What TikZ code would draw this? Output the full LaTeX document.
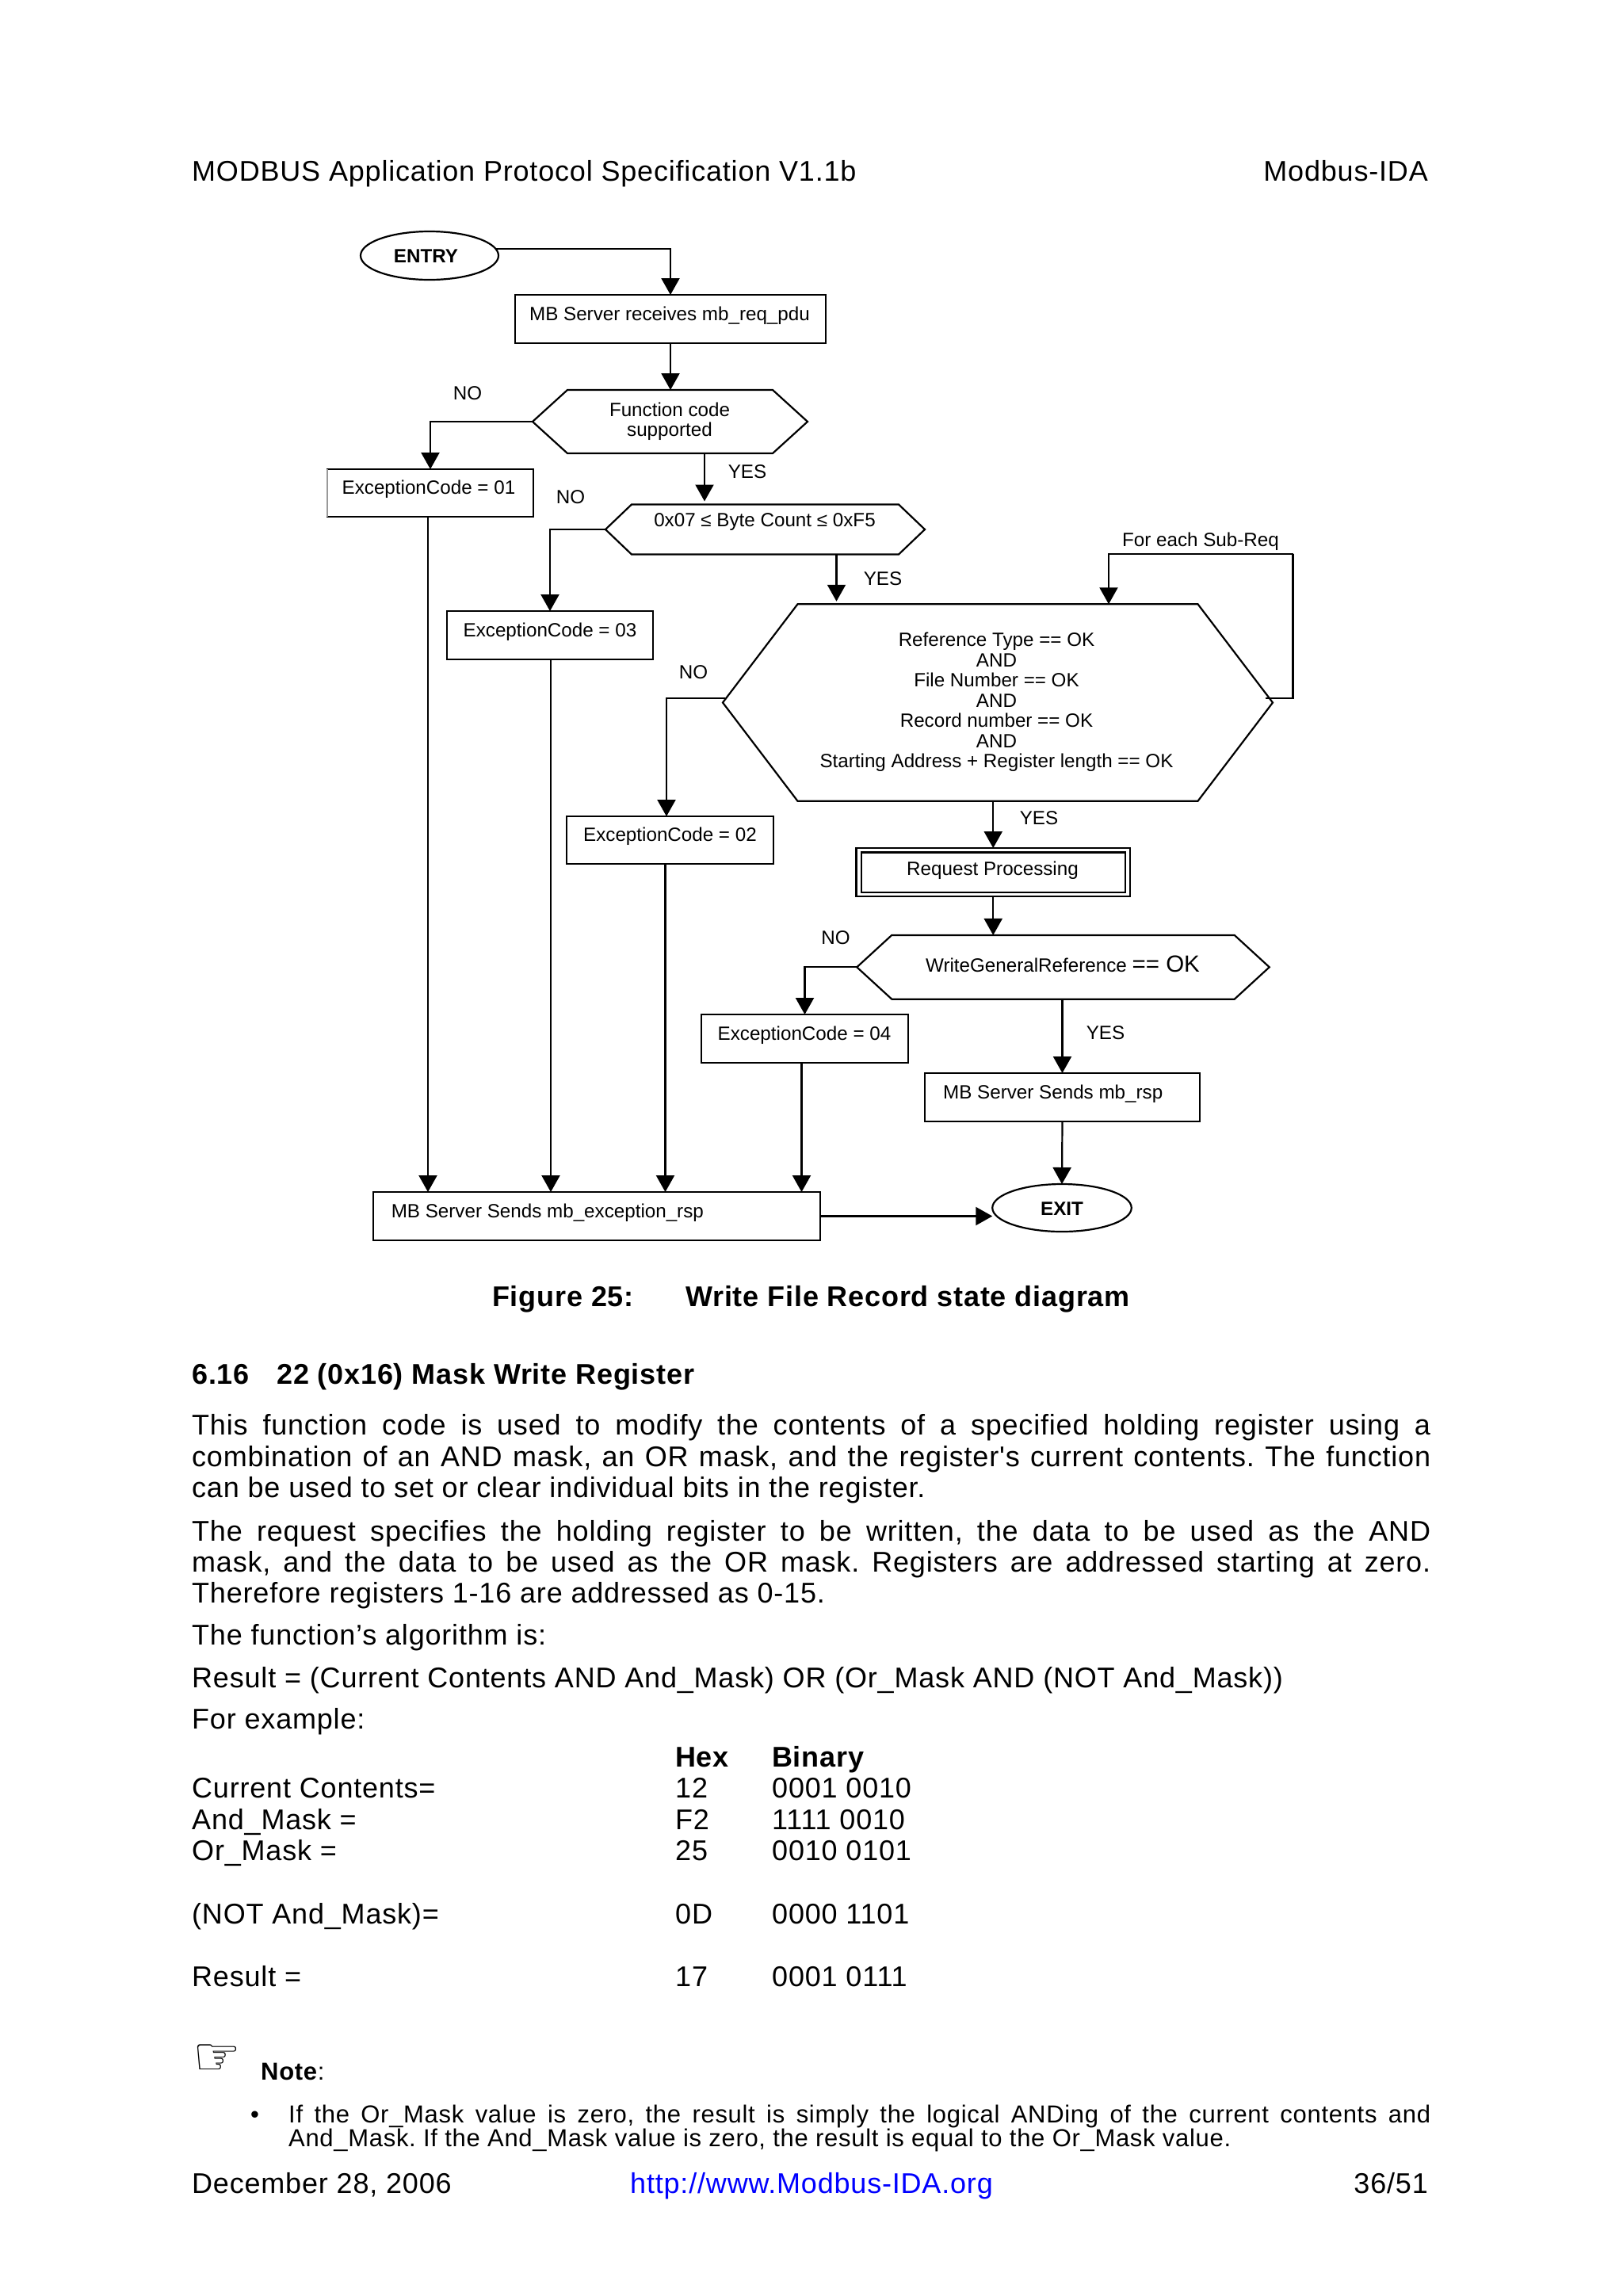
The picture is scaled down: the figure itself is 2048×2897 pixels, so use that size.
\documentclass[tikz,border=0pt]{standalone}
\usepackage{fontspec}
\usetikzlibrary{arrows.meta,shapes.geometric,calc}
\setmainfont{Liberation Sans}
\newfontfamily\bodyf[LetterSpace=2.25]{Liberation Sans}
\newfontfamily\dejavu{DejaVu Sans}
\newcommand{\bodysz}{\bodyf\fontsize{36}{40}\selectfont}
\newcommand{\notesz}{\bodyf\fontsize{31}{33}\selectfont}
\newcommand{\diasz}{\rmfamily\fontsize{24.2}{25.5}\selectfont}
\frenchspacing
\tikzset{
  pline/.style={line width=2.2pt,draw=black},
  arr/.style={pline,-{Triangle[length=21pt,width=23pt]}},
  boxn/.style={pline,rectangle,anchor=north west,inner sep=0pt,outer sep=0pt},
  hexn/.style={rectangle,inner sep=0pt,outer sep=0pt},
  ell/.style={pline,ellipse,inner sep=0pt,outer sep=0pt},
  dia/.style={inner sep=0pt,font=\diasz,align=center},
  diab/.style={inner sep=0pt,font=\diasz\bfseries},
  body/.style={inner sep=0pt,anchor=base west,font=\bodysz},
  bodyb/.style={inner sep=0pt,anchor=base west,font=\bodysz\bfseries},
  noteline/.style={inner sep=0pt,anchor=base west,font=\notesz},
}
\newcommand{\bx}[5]{\node[boxn,minimum width=#4pt,minimum height=#5pt] (#1) at (#2,#3) {};}
% name, cx, cy, w, h, chamfer
\newcommand{\hx}[6]{\node[hexn,minimum width=#4pt,minimum height=#5pt] (#1) at (#2,#3) {};
  \draw[pline,line join=miter] (#1.west) -- ([xshift=#6pt]#1.north west) -- ([xshift=-#6pt]#1.north east) -- (#1.east) -- ([xshift=-#6pt]#1.south east) -- ([xshift=#6pt]#1.south west) -- cycle;}
\newcommand{\jl}[3]{\node[body] (#1) at (242,#2) {\makebox[1563pt][s]{#3}};}
\begin{document}
\begin{tikzpicture}[x=1pt,y=-1pt]
\useasboundingbox (0,0) rectangle (2048,2897);
\fill[white] (0,0) rectangle (2048,2897);
% header
\node[body] (hl) at (242,228) {MODBUS Application Protocol Specification V1.1b};
\node[body,anchor=base east] (hr) at (1802,228) {Modbus-IDA};
% shapes
\node[ell,minimum width=174pt,minimum height=61pt] (entry) at (542,322.5) {};
\node[diab] (entryt) at (537.5,323) {ENTRY};
\bx{mb}{650}{372}{392}{61}
\node[dia] (mbt) at (845,398) {MB Server receives mb\_req\_pdu};
\hx{fn}{845.5}{532}{347}{80}{44}
\node[dia] (fnt) at (845,531.5) {Function code\\supported};
\bx{e1}{413}{592}{260}{60}
\node[dia] (e1t) at (541,617) {ExceptionCode = 01};
\draw[line width=2.6pt,black!40] (e1.north west) -- (e1.south west);
\hx{byte}{965.5}{668}{403}{63}{33}
\node[dia] (bytet) at (965,659) {0x07 ≤ Byte Count ≤ 0xF5};
\bx{e3}{564}{771}{260}{61}
\node[dia] (e3t) at (694,797) {ExceptionCode = 03};
\hx{big}{1259}{886.5}{694}{248.5}{94.5}
\node[dia] (bigt) at (1257.5,886) {Reference Type == OK\\AND\\File Number == OK\\AND\\Record number == OK\\AND\\Starting Address + Register length == OK};
\bx{e2}{715}{1030}{261}{60}
\node[dia] (e2t) at (845.5,1055) {ExceptionCode = 02};
\bx{req}{1080.5}{1070}{345.5}{61}
\node[pline,rectangle,inner sep=0pt,minimum width=333pt,minimum height=50.5pt] (reqi) at (1253.5,1100.8) {};
\node[dia] (reqt) at (1252.5,1098) {Request Processing};
\hx{w}{1341.5}{1220.3}{520.5}{80.7}{44}
\node[dia] (wt) at (1341,1216) {WriteGeneralReference {\fontsize{29.5}{29.5}\selectfont == OK}};
\bx{e4}{885}{1280}{261}{60.7}
\node[dia] (e4t) at (1015,1306) {ExceptionCode = 04};
\bx{ms}{1167}{1354}{347}{61}
\node[dia,anchor=west] (mst) at (1190,1380) {MB Server Sends mb\_rsp};
\bx{rsp}{470.6}{1504}{564.4}{61}
\node[dia,anchor=west] (rspt) at (493.6,1530) {MB Server Sends mb\_exception\_rsp};
\node[ell,minimum width=175.5pt,minimum height=60pt] (exitn) at (1340,1524) {};
\node[diab] (exitt) at (1340,1525) {EXIT};
\coordinate (loop) at (1631.5,699);
% connectors
\draw[arr] (entry.6) -| (mb.north);
\draw[arr] (mb.south) -- (mb.south |- fn.north);
\draw[arr] (fn.west) -| (e1.north);
\draw[arr,shorten >=4pt] ([xshift=43.5pt]fn.south) -- ([xshift=43.5pt]fn.south |- byte.north);
\draw[arr] (byte.west) -| (e3.north);
\draw[arr,shorten >=3.5pt] ([xshift=90pt]byte.south) -- ([xshift=90pt]byte.south |- big.north);
\draw[arr] ([xshift=3pt,yshift=5.5pt]big.west) -| ([xshift=-4.5pt]e2.north);
\draw[pline] ([xshift=-9pt,yshift=5.5pt]big.east) -| (loop);
\draw[arr] (loop) -| ([xshift=140pt]big.north);
\draw[arr] (req.north |- big.south) -- (req.north);
\draw[arr] (req.south) -- (req.south |- w.north);
\draw[arr] (w.west) -| (e4.north);
\draw[arr] (ms.north |- w.south) -- (ms.north);
\draw[arr] (ms.south) -- (exitn.north);
\draw[arr] (rsp.east) -- (rsp.east -| exitn.west);
\draw[arr] ([xshift=-3pt]e1.south) -- ([xshift=-3pt]e1.south |- rsp.north);
\draw[arr] ([xshift=1pt]e3.south) -- ([xshift=1pt]e3.south |- rsp.north);
\draw[arr] ([xshift=-6pt]e2.south) -- ([xshift=-6pt]e2.south |- rsp.north);
\draw[arr] ([xshift=-4pt]e4.south) -- ([xshift=-4pt]e4.south |- rsp.north);
% labels
\node[dia] (no1) at (590,496) {NO};
\node[dia] (yes1) at (943,595) {YES};
\node[dia] (no2) at (720,627) {NO};
\node[dia] (yes2) at (1114,730) {YES};
\node[dia] (sub) at (1515,683) {For each Sub-Req};
\node[dia] (no3) at (875,848) {NO};
\node[dia] (yes3) at (1311,1032) {YES};
\node[dia] (no4) at (1054.5,1183) {NO};
\node[dia] (yes4) at (1395,1303) {YES};
% caption
\node[bodyb] (c1) at (621,1648) {Figure 25:};
\node[bodyb] (c2) at (865,1648) {Write File Record state diagram};
\node[bodyb] (s1) at (242,1746) {6.16};
\node[bodyb] (s2) at (349,1746) {22 (0x16) Mask Write Register};
% body
\jl{p1}{1810}{This function code is used to modify the contents of a specified holding register using a}
\jl{p2}{1850}{combination of an AND mask, an OR mask, and the register's current contents. The function}
\node[body] (p3) at (242,1889) {can be used to set or clear individual bits in the register.};
\jl{p4}{1944}{The request specifies the holding register to be written, the data to be used as the AND}
\jl{p5}{1983}{mask, and the data to be used as the OR mask. Registers are addressed starting at zero.}
\node[body] (p6) at (242,2022) {Therefore registers 1-16 are addressed as 0-15.};
\node[body] (p7) at (242,2075) {The function’s algorithm is:};
\node[body] (p8) at (242,2129) {Result = (Current Contents AND And\_Mask) OR (Or\_Mask AND (NOT And\_Mask))};
\node[body] (p9) at (242,2181) {For example:};
\node[bodyb] (th) at (852,2229) {Hex};
\node[bodyb] (tb) at (974,2229) {Binary};
\node[body] (r1) at (242,2268) {Current Contents=};
\node[body] (r1h) at (852,2268) {12};
\node[body] (r1b) at (974,2268) {0001 0010};
\node[body] (r2) at (242,2308) {And\_Mask =};
\node[body] (r2h) at (852,2308) {F2};
\node[body] (r2b) at (974,2308) {1111 0010};
\node[body] (r3) at (242,2347) {Or\_Mask =};
\node[body] (r3h) at (852,2347) {25};
\node[body] (r3b) at (974,2347) {0010 0101};
\node[body] (r4) at (242,2427) {(NOT And\_Mask)=};
\node[body] (r4h) at (852,2427) {0D};
\node[body] (r4b) at (974,2427) {0000 1101};
\node[body] (r5) at (242,2506) {Result =};
\node[body] (r5h) at (852,2506) {17};
\node[body] (r5b) at (974,2506) {0001 0111};
% note
\node[inner sep=0pt,anchor=center,font=\dejavu\fontsize{68}{68}\selectfont] (hand) at (274,2599) {☞};
\node[noteline,font=\notesz\bfseries] (nt) at (329,2624) {Note\textmd{:}};
\node[noteline] (bu) at (316,2678) {•};
\node[noteline] (n1) at (364,2678) {\makebox[1441pt][s]{If the Or\_Mask value is zero, the result is simply the logical ANDing of the current contents and}};
\node[noteline] (n2) at (364,2708) {And\_Mask. If the And\_Mask value is zero, the result is equal to the Or\_Mask value.};
% footer
\node[body] (f1) at (242,2767) {December 28, 2006};
\node[body,text=blue] (f2) at (795,2767) {http://www.Modbus-IDA.org};
\node[body,anchor=base east] (f3) at (1802,2767) {36/51};
\end{tikzpicture}
\end{document}
